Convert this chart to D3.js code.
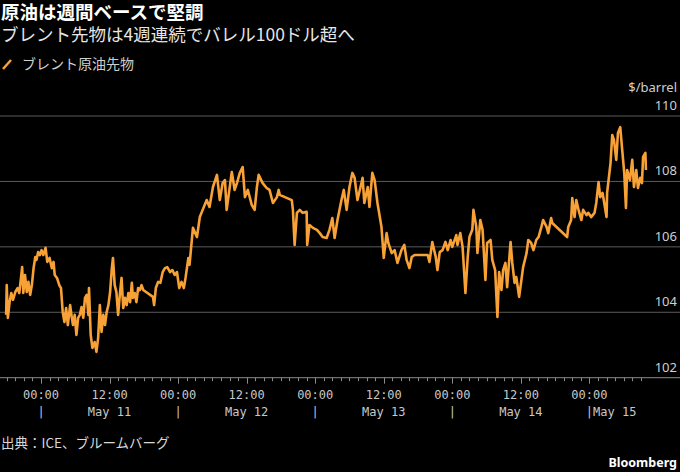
<!DOCTYPE html>
<html><head><meta charset="utf-8">
<script src="https://cdn.jsdelivr.net/npm/d3@7"></script>
<style>body{margin:0;background:#000}svg{display:block}</style>
</head><body>
<svg id="c" width="680" height="472"></svg>
<script>
const title = "原油は週間ベースで堅調";
const subtitle = "ブレント先物は4週連続でバレル100ドル超へ";
const seriesName = "ブレント原油先物";
const unitLabel = "$/barrel";
const sourceText = "出典：ICE、ブルームバーグ";
const brandText = "Bloomberg";
const yTicks = [102, 104, 106, 108, 110];
const dayLabels = ["May 11", "May 12", "May 13", "May 14", "May 15"];
// hours relative to May 11 00:00
const hours = [-6.1,-6.0,-5.8,-5.5,-5.2,-4.9,-4.5,-4.1,-3.8,-3.5,-3.3,-3.1,-2.8,-2.5,-2.2,-1.9,-1.6,-1.3,-1.0,-0.8,-0.5,-0.2,
0.1,0.4,0.8,1.1,1.5,1.9,2.2,2.4,2.8,3.2,3.5,3.8,4.1,4.4,4.7,5.1,5.4,5.6,5.9,6.2,6.5,6.8,7.1,7.4,7.7,8.0,8.3,8.4,8.7,9.0,9.4,9.7,
10.0,10.3,10.6,10.9,11.2,11.5,11.8,12.1,12.4,12.6,12.9,13.2,13.5,13.8,14.1,14.4,14.7,15.0,15.3,15.6,15.9,16.1,16.4,16.7,17.0,17.3,17.6,17.9,
19.6,19.8,20.1,20.5,20.9,21.3,21.7,22.1,22.6,23.0,23.4,23.8,24.2,24.6,25.0,25.3,25.8,26.0,26.6,27.3,27.8,28.3,29.0,29.5,
30.1,30.8,31.3,31.8,32.2,32.5,33.4,33.9,34.3,34.8,35.3,35.7,36.2,36.9,37.4,37.8,38.1,38.8,39.5,40.0,40.6,41.3,41.6,41.8,
43.9,44.1,44.4,44.8,45.3,45.8,46.5,46.6,47.0,47.6,48.3,48.8,49.3,50.0,50.5,51.0,51.4,51.9,52.6,53.0,53.5,54.0,54.5,54.9,
55.4,56.1,56.3,56.6,57.2,57.5,58.0,58.4,58.9,59.6,60.0,60.5,60.8,61.4,61.9,62.4,63.1,63.6,64.0,64.5,64.9,65.4,
67.7,68.0,68.5,69.1,69.4,69.8,70.3,70.8,71.2,71.7,72.0,72.7,72.9,73.4,73.8,74.3,74.7,75.0,75.5,75.7,76.2,76.4,76.9,77.3,
77.8,78.1,78.7,79.0,79.5,79.9,80.2,80.6,80.9,81.3,81.6,82.2,82.5,82.9,83.2,83.7,84.1,84.4,85.0,85.3,85.8,86.2,86.7,87.1,
87.6,87.9,88.5,88.8,89.3,89.5,92.1,92.3,92.8,93.0,93.4,93.7,94.1,94.6,94.9,95.5,95.8,96.3,96.9,97.2,97.6,97.9,98.3,98.6,
99.0,99.1,99.7,100.0,100.3,100.7,101.0,101.4,101.7,102.1,102.4,102.6,103.1,103.5,103.8,104.2,104.5,104.9,105.2,105.4,105.8,105.9];
const prices = [103.92,104.83,103.83,104.31,104.59,104.38,104.62,104.74,104.59,105.05,105.38,104.59,105.14,104.62,104.93,104.53,104.83,105.35,105.69,105.60,105.84,105.75,
105.90,105.75,105.97,105.54,105.66,105.35,105.54,105.14,105.05,104.83,104.74,104.01,103.70,104.13,103.61,104.22,103.83,103.61,103.92,103.31,103.83,103.92,104.16,103.83,104.44,104.53,103.92,104.74,103.31,102.91,103.09,102.79,
103.21,104.22,103.40,103.92,103.61,104.01,104.22,104.62,105.35,105.66,104.83,104.62,103.92,104.53,105.05,104.13,104.44,104.22,104.59,104.31,104.90,104.44,104.59,104.31,104.74,104.68,104.83,104.68,
104.47,104.22,104.74,104.93,104.90,105.23,105.35,105.38,105.23,105.29,105.14,105.23,104.74,104.93,104.74,105.05,105.66,105.45,106.58,106.30,106.91,107.13,107.43,107.22,
107.83,108.20,107.43,107.95,108.04,107.13,108.29,107.74,107.95,108.26,108.44,107.52,107.74,107.28,107.13,107.83,108.20,107.95,107.80,107.74,107.34,107.52,107.74,107.59,
107.43,107.13,106.06,107.04,107.13,107.04,107.07,106.06,106.67,106.58,106.52,106.42,106.30,106.27,106.52,106.88,106.27,106.82,107.43,107.74,107.13,107.83,108.26,108.11,
107.43,107.95,108.11,107.34,107.83,107.22,108.26,108.04,107.34,106.61,105.66,106.42,106.12,105.81,105.90,105.51,105.90,106.06,105.60,105.35,105.69,105.75,
105.75,105.54,106.15,105.69,105.29,105.84,105.90,106.15,105.90,106.21,106.00,106.36,106.06,106.42,106.00,104.59,105.69,106.30,106.52,107.13,106.61,105.81,106.82,106.52,
104.99,106.12,106.21,105.60,105.29,103.86,105.23,104.68,105.29,105.51,104.77,106.15,105.51,104.90,105.08,104.47,104.99,105.38,105.81,106.21,106.12,105.90,106.21,106.30,
106.61,106.82,106.61,106.42,106.88,106.73,106.30,106.61,106.82,107.49,106.91,107.43,107.13,106.82,107.13,106.97,107.04,106.91,107.04,107.34,107.98,107.52,107.65,107.34,
106.91,107.65,108.56,109.42,109.27,108.66,109.48,109.66,109.05,108.26,107.19,108.35,108.04,108.66,107.83,108.35,107.80,108.11,107.95,108.75,108.87,108.35];

const base = new Date(2022, 4, 11, 0, 0);
const H = 3600e3;
const toDate = h => new Date(+base + h * H);
const data = hours.map((h, i) => ({ t: toDate(h), v: prices[i] }));

const svg = d3.select("#c");
const x = d3.scaleTime().domain([base, toDate(96)]).range([41, 589.4]);
const y = d3.scaleLinear().domain([102, 110]).range([377.7, 116]);

svg.append("rect").attr("width", 680).attr("height", 472).attr("fill", "#000");

// titles
svg.append("text").attr("x", 1).attr("y", 19).attr("fill", "#fff")
  .attr("font-family", "Noto Sans CJK JP").attr("font-weight", "bold").attr("font-size", 18.5).text(title);
svg.append("text").attr("x", 1).attr("y", 41).attr("fill", "#e6e6e6")
  .attr("font-family", "Noto Sans CJK JP").attr("font-size", 17.5).text(subtitle);

// legend
svg.append("line").attr("x1", 3).attr("y1", 69).attr("x2", 11).attr("y2", 60)
  .attr("stroke", "#f7a136").attr("stroke-width", 2.5);
svg.append("text").attr("x", 22).attr("y", 69).attr("fill", "#cfcfcf")
  .attr("font-family", "Noto Sans CJK JP").attr("font-size", 14).text(seriesName);

// grid
const yTop = yTicks.filter(d => d !== 102);
svg.selectAll(".grid").data(yTop).join("line")
  .attr("x1", 0).attr("x2", 680).attr("y1", d => y(d)).attr("y2", d => y(d))
  .attr("stroke", "#5a5a5a").attr("stroke-width", 1);
svg.selectAll(".ylab").data(yTicks).join("text")
  .attr("x", 677).attr("y", d => y(d) - 6).attr("text-anchor", "end")
  .attr("fill", "#cfcfcf").attr("font-family", "Noto Sans").attr("font-size", 13).text(d => d);
svg.append("text").attr("x", 677).attr("y", y(110) - 24).attr("text-anchor", "end")
  .attr("fill", "#cfcfcf").attr("font-family", "Noto Sans").attr("font-size", 13).text(unitLabel);

// x axis
svg.append("line").attr("x1", 0).attr("x2", 680).attr("y1", y(102)).attr("y2", y(102))
  .attr("stroke", "#8a8a8a").attr("stroke-width", 1);
const tickHours = d3.range(-6, 105.01, 1.5);
svg.selectAll(".xt").data(tickHours).join("line")
  .attr("x1", h => Math.round(x(toDate(h))) + 0.5).attr("x2", h => Math.round(x(toDate(h))) + 0.5)
  .attr("y1", y(102)).attr("y2", h => y(102) + (h % 12 === 0 ? 6 : 3.5))
  .attr("stroke", "#8a8a8a").attr("stroke-width", 1);
const fmt = d3.timeFormat("%H:%M");
const labelHours = d3.range(0, 96.01, 12);
svg.selectAll(".xl").data(labelHours).join("text")
  .attr("x", h => x(toDate(h))).attr("y", 399).attr("text-anchor", "middle")
  .attr("fill", "#c8c8c8").attr("font-family", "DejaVu Sans Mono").attr("font-size", 12)
  .text(h => fmt(toDate(h)));
const mono = { "font-family": "DejaVu Sans Mono", "font-size": 12, fill: "#c8c8c8" };
dayLabels.forEach((lab, i) => {
  const g = svg.append("g");
  const x0 = x(toDate(i * 24));
  if (i < dayLabels.length - 1) {
    g.append("text").attr("x", x0).attr("y", 416).attr("text-anchor", "middle").text("|");
    g.append("text").attr("x", x(toDate(i * 24 + 12))).attr("y", 416).attr("text-anchor", "middle").text(lab);
  } else {
    g.append("text").attr("x", x0 - 3.6).attr("y", 416).attr("text-anchor", "start").text("|" + lab);
  }
  g.selectAll("text").attr("font-family", mono["font-family"]).attr("font-size", mono["font-size"]).attr("fill", mono.fill);
});

// line
svg.append("path").datum(data)
  .attr("d", d3.line().x(d => x(d.t)).y(d => y(d.v)))
  .attr("fill", "none").attr("stroke", "#f7a136").attr("stroke-width", 2.6)
  .attr("stroke-linejoin", "round");

// footer
svg.append("text").attr("x", 1).attr("y", 448).attr("fill", "#d8d8d8")
  .attr("font-family", "Noto Sans CJK JP").attr("font-size", 13.5).text(sourceText);
svg.append("text").attr("x", 677).attr("y", 467).attr("text-anchor", "end").attr("fill", "#fff")
  .attr("font-family", "Noto Sans").attr("font-weight", "bold").attr("font-size", 12.5).text(brandText);
</script>
</body></html>
